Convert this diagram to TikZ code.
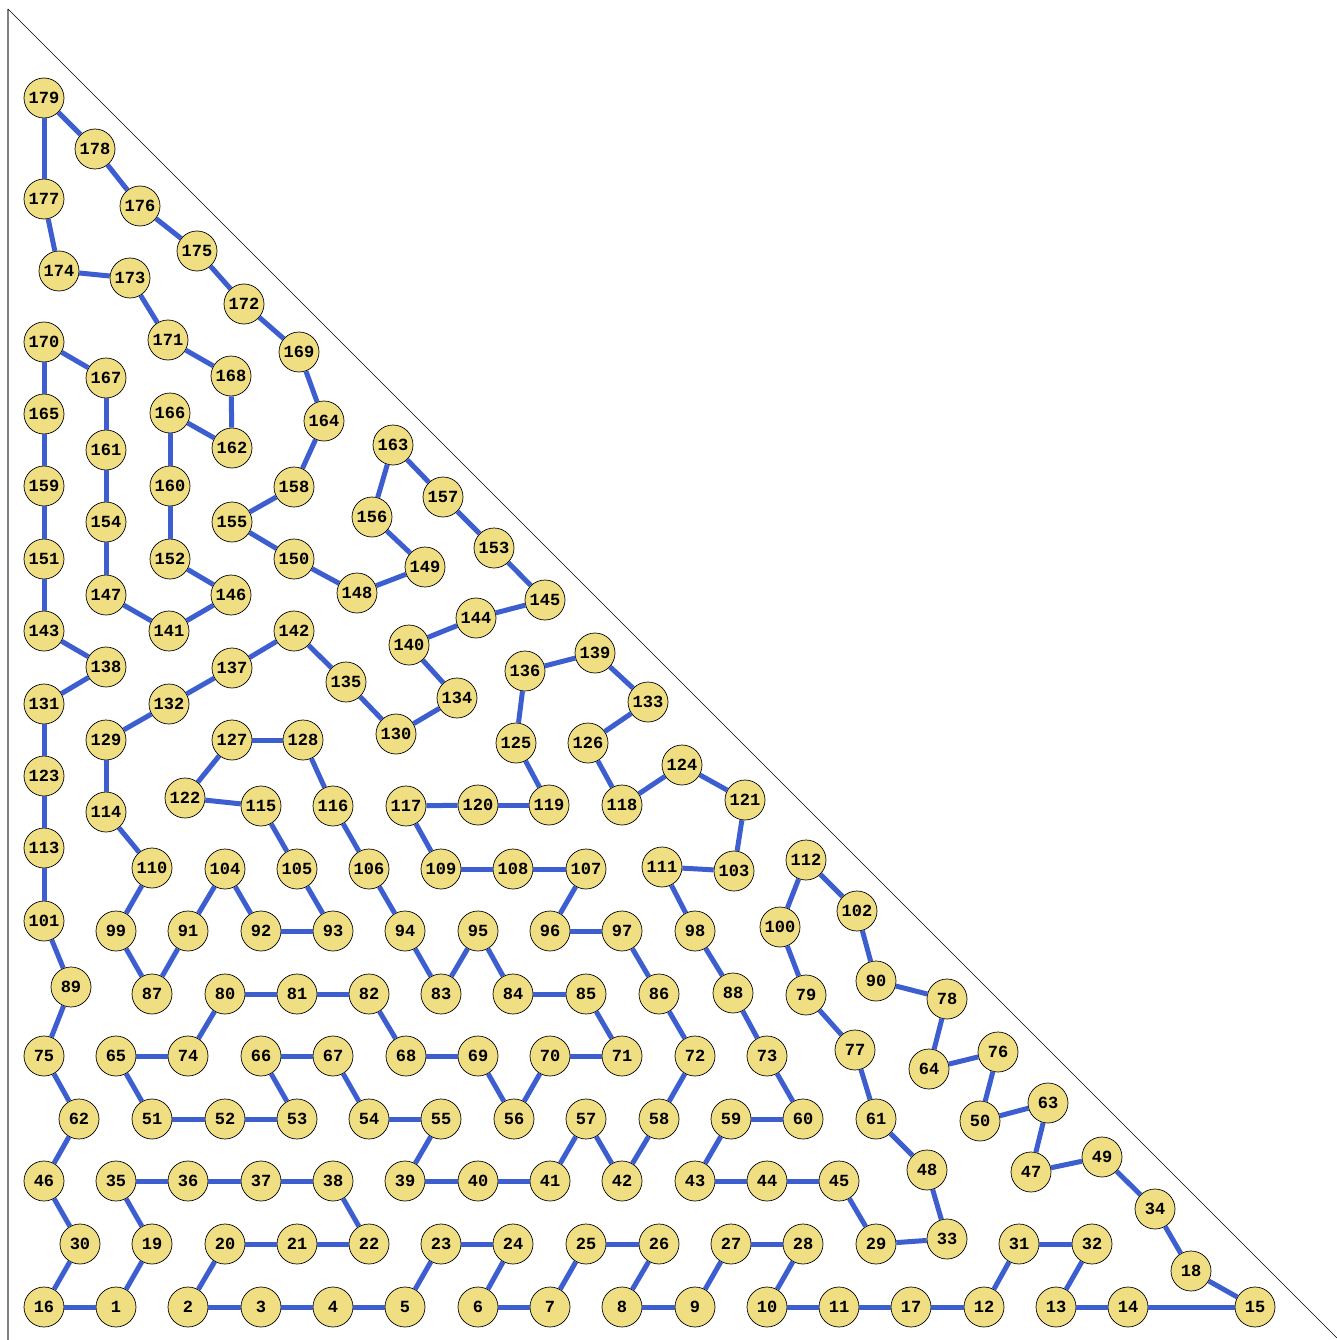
\documentclass[tikz,border=0pt]{standalone}
\usepackage{fontspec}
\setmonofont{Liberation Mono}
\definecolor{nodefill}{RGB}{240,222,130}
\definecolor{edgeblue}{RGB}{61,94,207}
\tikzset{
  vtx/.style={circle,draw=black,line width=0.7pt,fill=nodefill,minimum size=40pt,inner sep=0pt,font=\fontsize{17}{17}\selectfont\ttfamily\bfseries},
  edg/.style={draw=edgeblue,line width=5pt}
}
\begin{document}
\begin{tikzpicture}[x=1pt,y=-1pt]
\useasboundingbox (0,0) rectangle (1337,1340);
\coordinate (topc) at (8,9);
\coordinate (botc) at (8,1340);
\coordinate (diagend) at (1337,1338);
\draw[gray,line width=1.2pt] (topc) -- (botc);
\draw[black,line width=0.6pt] (topc) -- (diagend);
\begin{scope}[shift={(0,1)}]
\foreach \n/\x/\y in {
179/44/97,178/95/148,177/44/198,176/140/205,175/197/250,174/59/270,173/130/277,172/244/303,
171/168/339,170/44/341,169/299/351,168/231/375,167/106/377,166/170/412,165/44/413,164/324/420,
163/393/444,162/232/447,161/106/449,160/170/485,159/44/485,158/294/486,157/443/496,156/372/516,
155/232/521,154/106/521,153/494/547,152/170/558,151/44/558,150/294/558,149/425/566,148/357/592,
147/106/594,146/231/594,145/545/599,144/476/617,143/44/630,142/294/630,141/169/630,140/409/644,
139/595/652,138/106/666,137/232/667,136/525/670,135/346/681,134/457/697,133/648/701,132/169/703,
131/44/703,130/396/733,129/106/739,128/303/739,127/232/739,126/588/742,125/516/742,124/682/764,
123/44/775,122/185/797,121/745/799,120/478/804,119/549/804,118/622/804,117/406/805,116/333/805,
115/261/805,114/106/811,113/44/847,112/806/859,111/662/866,110/152/867,109/441/868,108/513/868,
107/586/868,106/369/868,105/297/868,104/225/868,103/734/870,102/857/910,101/44/920,100/780/926,
99/116/930,98/695/930,97/622/930,96/550/930,95/478/930,94/405/930,93/333/930,92/261/930,91/188/930,
90/876/980,89/71/986,88/733/992,87/152/993,86/659/993,85/586/993,84/513/993,83/441/993,82/369/993,
81/297/993,80/225/993,79/806/994,78/947/998,77/855/1049,76/998/1051,75/44/1055,74/188/1055,
73/767/1055,72/695/1055,71/622/1055,70/550/1055,69/478/1055,68/406/1055,67/333/1055,66/261/1055,
65/116/1055,64/929/1068,63/1048/1102,62/79/1118,61/876/1118,60/803/1118,59/731/1118,58/659/1118,
57/586/1118,56/514/1118,55/441/1118,54/369/1118,53/297/1118,52/225/1118,51/152/1118,50/980/1120,
49/1102/1156,48/927/1169,47/1031/1171,46/44/1180,45/839/1180,44/767/1180,43/695/1180,42/622/1180,
41/550/1180,40/478/1180,39/405/1180,38/333/1180,37/261/1180,36/188/1180,35/116/1180,34/1155/1208,
33/947/1238,32/1092/1243,31/1019/1243,30/80/1243,29/876/1243,28/803/1243,27/731/1243,26/659/1243,
25/586/1243,24/513/1243,23/441/1243,22/369/1243,21/297/1243,20/225/1243,19/152/1243,18/1191/1270,
17/911/1306,16/44/1306,15/1255/1306,14/1128/1306,13/1056/1306,12/984/1306,11/839/1306,10/767/1306,
9/695/1306,8/622/1306,7/550/1306,6/478/1306,5/405/1306,4/333/1306,3/261/1306,2/188/1306,1/116/1306}
  {\node[vtx] (n\n) at (\x,\y) {\n};}
\end{scope}
\foreach \a/\b in {
179/178,179/177,178/176,177/174,176/175,174/173,175/172,173/171,172/169,171/168,170/167,170/165,
169/164,168/162,167/161,166/162,166/160,165/159,164/158,163/156,163/157,161/154,160/152,159/151,
158/155,157/153,156/149,155/150,154/147,153/145,152/146,151/143,150/148,149/148,147/141,146/141,
145/144,143/138,144/140,142/137,142/135,140/134,139/136,139/133,138/131,137/132,136/125,135/130,
134/130,133/126,132/129,131/123,129/114,128/127,128/116,127/122,126/118,125/119,124/118,124/121,
123/113,122/115,121/103,120/117,120/119,117/109,116/106,115/105,114/110,113/101,112/100,112/102,
111/103,111/98,110/99,109/108,108/107,107/96,106/94,105/93,104/91,104/92,102/90,101/89,100/79,
99/87,98/88,97/96,97/86,95/83,95/84,94/83,93/92,91/87,90/78,89/75,88/73,86/72,85/84,85/71,82/81,
81/80,82/68,80/74,79/77,78/64,77/61,76/64,76/50,75/62,74/65,73/60,72/58,70/71,70/56,69/68,69/56,
67/66,67/54,66/53,65/51,63/50,63/47,62/46,61/48,60/59,59/43,58/42,57/42,57/41,55/54,55/39,52/51,
52/53,49/47,49/34,48/33,46/30,45/44,45/29,44/43,41/40,40/39,38/37,38/22,37/36,36/35,35/19,34/18,
33/29,32/31,32/13,31/12,30/16,28/27,28/10,27/9,26/25,26/8,25/7,24/23,24/6,23/5,22/21,21/20,20/2,
19/1,18/15,17/11,17/12,16/1,15/14,14/13,11/10,9/8,7/6,5/4,4/3,3/2}
  {\draw[edg] (n\a) -- (n\b);}
\end{tikzpicture}
\end{document}
